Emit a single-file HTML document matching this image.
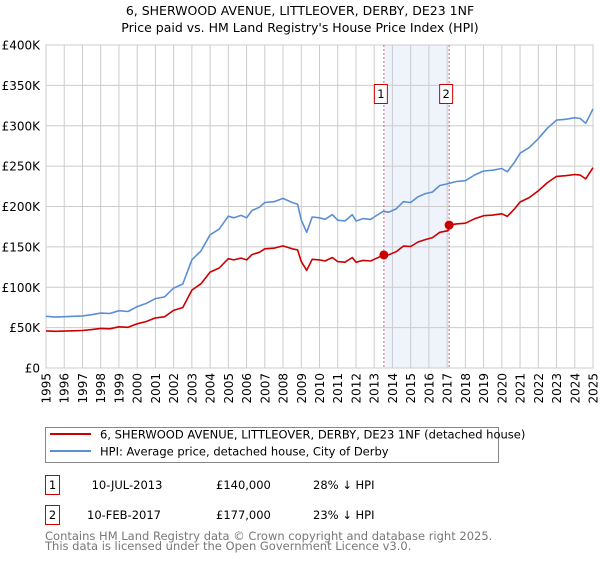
<!DOCTYPE html>
<html><head><meta charset="utf-8"><style>
body{margin:0;background:#fff;font-family:"Liberation Sans","DejaVu Sans",sans-serif;}
svg text{font-family:"DejaVu Sans","Liberation Sans",sans-serif;}
</style></head><body>
<svg id="chart" width="600" height="560" xmlns="http://www.w3.org/2000/svg">
<text x="300" y="15" text-anchor="middle" font-size="12.5" fill="#000">6, SHERWOOD AVENUE, LITTLEOVER, DERBY, DE23 1NF</text>
<text x="300" y="32" text-anchor="middle" font-size="12.5" fill="#000">Price paid vs. HM Land Registry's House Price Index (HPI)</text>
<g id="grid"></g><g id="series"></g><g id="axes"></g>
<rect x="45.5" y="427.5" width="453" height="35" fill="#fff" stroke="#888"/>
<line x1="50" y1="434" x2="91" y2="434" stroke="#cc0000" stroke-width="2"/>
<text x="100" y="438.5" font-size="11.5">6, SHERWOOD AVENUE, LITTLEOVER, DERBY, DE23 1NF (detached house)</text>
<line x1="50" y1="451" x2="91" y2="451" stroke="#5b8fd4" stroke-width="2"/>
<text x="100" y="455.5" font-size="11.5">HPI: Average price, detached house, City of Derby</text>
<rect x="45.5" y="475.5" width="14" height="19" fill="#fff" stroke="#cc0000"/>
<text x="52.5" y="489" text-anchor="middle" font-size="11.5">1</text>
<text x="127" y="489" text-anchor="middle" font-size="11.5">10-JUL-2013</text>
<text x="216" y="489" font-size="11.5">£140,000</text>
<text x="313" y="489" font-size="11.5">28% ↓ HPI</text>
<rect x="45.5" y="505.5" width="14" height="19" fill="#fff" stroke="#cc0000"/>
<text x="52.5" y="519" text-anchor="middle" font-size="11.5">2</text>
<text x="124" y="519" text-anchor="middle" font-size="11.5">10-FEB-2017</text>
<text x="216" y="519" font-size="11.5">£177,000</text>
<text x="313" y="519" font-size="11.5">23% ↓ HPI</text>
<text x="45" y="540" font-size="11.5" fill="#777">Contains HM Land Registry data © Crown copyright and database right 2025.</text>
<text x="45" y="550" font-size="11.5" fill="#777">This data is licensed under the Open Government Licence v3.0.</text>
</svg>
<script>
const NS="http://www.w3.org/2000/svg";
const yTicks=[0,50000,100000,150000,200000,250000,300000,350000,400000];
const yTickLabels=["£0","£50K","£100K","£150K","£200K","£250K","£300K","£350K","£400K"];
const xYears=[1995,1996,1997,1998,1999,2000,2001,2002,2003,2004,2005,2006,2007,2008,2009,2010,2011,2012,2013,2014,2015,2016,2017,2018,2019,2020,2021,2022,2023,2024,2025];
const hpiDates=[1995,1995.5,1996,1996.5,1997,1997.5,1998,1998.5,1999,1999.5,2000,2000.5,2001,2001.5,2002,2002.5,2003,2003.5,2004,2004.5,2005,2005.3,2005.7,2006,2006.3,2006.7,2007,2007.5,2008,2008.5,2008.8,2009,2009.3,2009.6,2010,2010.3,2010.7,2011,2011.4,2011.8,2012,2012.4,2012.8,2013,2013.5,2013.8,2014.2,2014.6,2015,2015.4,2015.8,2016.2,2016.6,2017,2017.5,2018,2018.5,2019,2019.5,2020,2020.3,2020.7,2021,2021.5,2022,2022.5,2023,2023.5,2024,2024.3,2024.6,2024.8,2025];
const hpiValues=[64000,63000,63500,64000,64500,66000,68000,67500,71000,70000,76000,80000,86000,88000,99000,104000,134000,145000,165000,172000,188000,186000,189000,186000,195000,199000,205000,206000,210000,205000,203000,183000,168000,187000,186000,184000,190000,183000,182000,190000,182000,185000,184000,187000,194000,193000,197000,206000,205000,212000,216000,218000,226000,228000,231000,232000,239000,244000,245000,247000,243000,255000,266000,273000,284000,297000,307000,308000,310000,309000,303000,312000,321000];
const ppDates=[1995,1995.5,1996,1996.5,1997,1997.5,1998,1998.5,1999,1999.5,2000,2000.5,2001,2001.5,2002,2002.5,2003,2003.5,2004,2004.5,2005,2005.3,2005.7,2006,2006.3,2006.7,2007,2007.5,2008,2008.5,2008.8,2009,2009.3,2009.6,2010,2010.3,2010.7,2011,2011.4,2011.8,2012,2012.4,2012.8,2013,2013.53,2013.8,2014.2,2014.6,2015,2015.4,2015.8,2016.2,2016.6,2017.05,2017.11,2017.5,2018,2018.5,2019,2019.5,2020,2020.3,2020.7,2021,2021.5,2022,2022.5,2023,2023.5,2024,2024.3,2024.6,2024.8,2025];
const ppValues=[46000,45400,45700,46100,46400,47500,49000,48600,51000,50400,54700,57600,62000,63400,71300,74900,96500,104400,118800,123800,135400,133900,136100,133900,140400,143300,147600,148300,151200,147600,146200,131800,121000,134600,133900,132500,136800,131800,131000,136800,131000,133200,132500,134600,140000,140200,144000,151000,150500,156000,159000,161500,168000,170000,177000,178500,179300,184800,188600,189400,190900,187800,197100,205600,211000,219500,229600,237300,238100,239600,238900,234200,241200,248000];
const sales=[2013.53,2017.11];
const saleValues=[140000,177000];
const X0=46,X1=593,Y0=368,Y1=45;
const xs=d=>X0+(d-1995)/(2025-1995)*(X1-X0);
const ys=v=>Y0-v/400000*(Y0-Y1);
function mk(tag,attrs,parent){const e=document.createElementNS(NS,tag);for(const k in attrs)e.setAttribute(k,attrs[k]);parent.appendChild(e);return e;}
const grid=document.getElementById('grid'),ser=document.getElementById('series'),ax=document.getElementById('axes');
const shade=mk('rect',{x:xs(sales[0]),y:Y1,width:xs(sales[1])-xs(sales[0]),height:Y0-Y1,fill:'#eef3fc'},grid);


xYears.forEach(yr=>{
  const l=mk('line',{x1:xs(yr),x2:xs(yr),y1:Y1,y2:Y0,stroke:'#cccccc','stroke-width':1},grid);
  
  
  const t=mk('text',{x:0,y:0,transform:`translate(${xs(yr)+4.5},${Y0+5}) rotate(-90)`,'text-anchor':'end','font-size':'12',fill:'#000'},ax);
  t.textContent=yr;
  
  
});
yTicks.forEach((v,i)=>{
  const l=mk('line',{x1:X0,x2:X1,y1:ys(v),y2:ys(v),stroke:'#cccccc','stroke-width':1},grid);
  
  
  const t=mk('text',{x:40,y:ys(v)+4.5,'text-anchor':'end','font-size':'12',fill:'#000'},ax);
  t.textContent=yTickLabels[i];
  
  
});
const frame=mk('rect',{x:X0,y:Y1,width:X1-X0,height:Y0-Y1,fill:'none',stroke:'#cccccc'},grid);


sales.forEach((d,i)=>{
  const l=mk('line',{x1:xs(d),x2:xs(d),y1:Y1,y2:Y0,stroke:'#e06666','stroke-width':1,'stroke-dasharray':'2,2'},ser);
  
  
});
function path(ds,vs,col,name){
  const p=mk('path',{d:ds.map((d,i)=>(i?'L':'M')+xs(d).toFixed(1)+','+ys(vs[i]).toFixed(1)).join(''),fill:'none',stroke:col,'stroke-width':1.6,'stroke-linejoin':'round'},ser);
  
  
}
path(hpiDates,hpiValues,'#5b8fd4','hpi-line');
path(ppDates,ppValues,'#cc0000','property-price-line');
sales.forEach((d,i)=>{
  const c=mk('circle',{cx:xs(d),cy:ys(saleValues[i]),r:4.5,fill:'#cc0000'},ser);
  
  
  const b=mk('rect',{x:xs(d)-9.5,y:84.5,width:13,height:19,fill:'#fff',stroke:'#cc0000'},ser);
  
  
  const t=mk('text',{x:xs(d)-3,y:98,'text-anchor':'middle','font-size':'11.5'},ser);
  t.textContent=String(i+1);
  
  
});
</script>
</body></html>
